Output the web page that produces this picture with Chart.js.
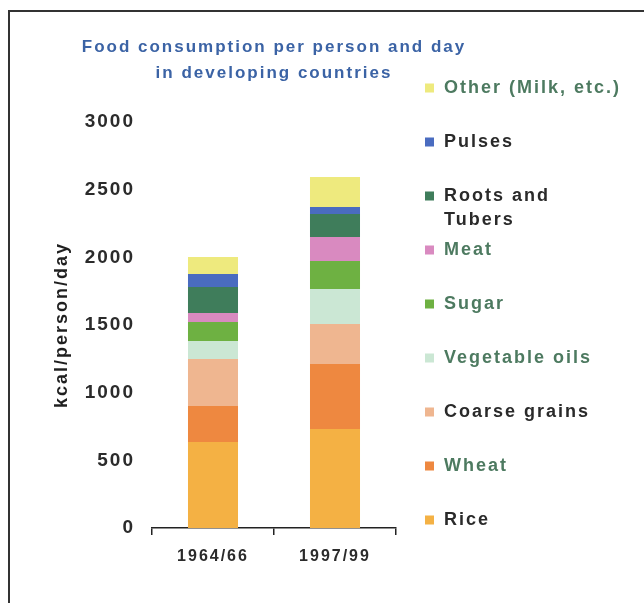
<!DOCTYPE html>
<html>
<head>
<meta charset="utf-8">
<title>Food consumption per person and day</title>
<script src="https://cdn.jsdelivr.net/npm/chart.js@4/dist/chart.umd.min.js"></script>
<style>
  html, body { margin: 0; padding: 0; background: #ffffff; }
  #wrap { width: 644px; height: 603px; }
</style>
</head>
<body>
<div id="wrap"><canvas id="chart" width="644" height="603"></canvas></div>
<script>
// Periods on the x axis
const categories = ['1964/66', '1997/99'];

// kcal per person per day, by food group (bottom of stack first)
const seriesNames = [
  'Rice', 'Wheat', 'Coarse grains', 'Vegetable oils', 'Sugar',
  'Meat', 'Roots and\nTubers', 'Pulses', 'Other (Milk, etc.)'
];
const rice           = [636, 732];
const wheat          = [266, 480];
const coarseGrains   = [347, 296];
const vegetableOils  = [133, 258];
const sugar          = [140, 207];
const meat           = [67, 177];
const rootsAndTubers = [192, 170];
const pulses         = [96, 52];
const other          = [126, 222];

// y axis ticks
const yTicks = [0, 500, 1000, 1500, 2000, 2500, 3000];

// Styling, kept apart from the values
const barColors = [
  '#f4b144', '#ee8840', '#efb690', '#cbe7d4', '#6eb142',
  '#d98ac0', '#3f7d5b', '#4a6cc0', '#eeea7e'
];
const legendTextColors = [
  '#2a2a2a', '#4d7a60', '#2a2a2a', '#4d7a60', '#4d7a60',
  '#4d7a60', '#2a2a2a', '#2a2a2a', '#4d7a60'
];

const values = [rice, wheat, coarseGrains, vegetableOils, sugar, meat, rootsAndTubers, pulses, other];
const FONT = "'Liberation Sans', Arial, sans-serif";

// Spaced-out lettering for all text on the canvas
const spacingPlugin = {
  id: 'letterSpacing',
  beforeUpdate(chart) { chart.ctx.letterSpacing = '2px'; },
  beforeDraw(chart) { chart.ctx.letterSpacing = '2px'; }
};

// Title stays centred over the plot but may run wider than it
const wideTitle = {
  id: 'wideTitle',
  afterLayout(chart) {
    const t = chart.titleBlock;
    if (t) { t.left -= 120; t.right += 120; t.width = t.right - t.left; }
  }
};

// White page with the open frame along the left and top edges
const framePlugin = {
  id: 'frame',
  beforeDraw(chart) {
    const ctx = chart.ctx;
    ctx.save();
    ctx.fillStyle = '#ffffff';
    ctx.fillRect(0, 0, chart.width, chart.height);
    ctx.strokeStyle = '#333333';
    ctx.lineWidth = 2;
    ctx.beginPath();
    ctx.moveTo(9, chart.height);
    ctx.lineTo(9, 11);
    ctx.lineTo(chart.width, 11);
    ctx.stroke();
    ctx.restore();
  }
};

// Legend on the right, listed top-down in the order the stack is read
const sideLegend = {
  id: 'sideLegend',
  afterDraw(chart, args, opts) {
    const ctx = chart.ctx;
    ctx.save();
    ctx.font = `bold ${opts.fontSize}px ${FONT}`;
    ctx.letterSpacing = opts.spacing;
    ctx.textBaseline = 'middle';
    ctx.textAlign = 'left';
    const n = chart.data.datasets.length;
    for (let k = 0; k < n; k++) {
      const idx = n - 1 - k;
      const ds = chart.data.datasets[idx];
      const y = opts.top + k * opts.step;
      ctx.fillStyle = ds.backgroundColor;
      ctx.fillRect(opts.x, y - opts.box / 2, opts.box, opts.box);
      ctx.fillStyle = opts.textColors[idx];
      ds.label.split('\n').forEach((line, j) => {
        ctx.fillText(line, opts.x + opts.textGap, y + j * opts.lineStep);
      });
    }
    ctx.restore();
  }
};

const datasets = seriesNames.map((name, i) => ({
  label: name,
  data: values[i],
  backgroundColor: barColors[i],
  borderWidth: 0,
  categoryPercentage: 1.0,
  barPercentage: 0.41
}));

new Chart(document.getElementById('chart'), {
  type: 'bar',
  data: { labels: categories, datasets },
  plugins: [spacingPlugin, wideTitle, framePlugin, sideLegend],
  options: {
    responsive: false,
    animation: false,
    layout: { padding: { left: 10, right: 248, top: 14, bottom: 0 } },
    plugins: {
      legend: { display: false },
      tooltip: { enabled: false },
      title: {
        display: true,
        fullSize: false,
        text: ['Food consumption per person and day', 'in developing countries'],
        color: '#3b63a5',
        font: { family: FONT, size: 17, weight: 'bold', lineHeight: 1.53 },
        padding: { top: 20, bottom: 36 }
      },
      sideLegend: {
        x: 425, top: 88, step: 54, box: 9, textGap: 19, lineStep: 24,
        fontSize: 18, spacing: '2px', textColors: legendTextColors
      }
    },
    scales: {
      x: {
        stacked: true,
        grid: {
          display: true, offset: true, drawOnChartArea: false,
          drawTicks: true, tickLength: 7, color: '#222222', lineWidth: 1.5
        },
        border: { display: true, color: '#222222', width: 1.5 },
        ticks: {
          color: '#2b2b2b', padding: 12,
          font: { family: FONT, size: 16, weight: 'bold' }
        },
        afterFit(scale) { scale.height = 75; }
      },
      y: {
        stacked: true,
        min: 0, max: 3000,
        grid: { display: false, drawTicks: false },
        border: { display: false },
        afterBuildTicks(scale) { scale.ticks = yTicks.map(v => ({ value: v })); },
        ticks: {
          color: '#2b2b2b', padding: 17,
          font: { family: FONT, size: 19, weight: 'bold' },
          callback: (v) => String(v)
        },
        title: {
          display: true,
          text: 'kcal/person/day',
          color: '#1f1f1f',
          font: { family: FONT, size: 18, weight: 'bold' },
          padding: { top: 41, bottom: 0 }
        },
        afterFit(scale) { scale.width = 142; }
      }
    }
  }
});
</script>
</body>
</html>
